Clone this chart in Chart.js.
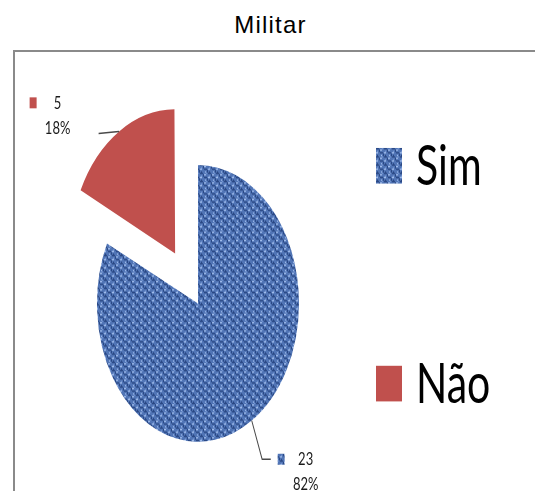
<!DOCTYPE html>
<html>
<head>
<meta charset="utf-8">
<script src="https://cdn.jsdelivr.net/npm/chart.js@4"></script>
<style>
  body { margin: 0; background: #fff; width: 535px; height: 491px; overflow: hidden; position: relative; }
  #title {
    position: absolute; left: 0; top: 13px; width: 541px; text-align: center;
    font: 24px/24px "Liberation Sans", Arial, sans-serif; letter-spacing: 1.2px; color: #000;
  }
  #frame {
    position: absolute; left: 13px; top: 50px; width: 540px; height: 460px;
    border-left: 2px solid #8a8a8a; border-top: 2px solid #8a8a8a;
  }
  #chart { position: absolute; left: 0; top: 0; }
</style>
</head>
<body>
<div id="title">Militar</div>
<div id="frame"></div>
<canvas id="chart" width="535" height="491"></canvas>
<script>
// --- data ---
const categories = ["Sim", "Não"];
const counts = [23, 5];

// --- colours ---
const RED = "#c0504d";
const FONT = "Lato, 'Open Sans', sans-serif";

// the original pie is drawn squashed into an ellipse: everything inside the frame
// is stretched vertically by this factor
const SY = 1.37;

// woven blue fill used for "Sim"
function makeWeave() {
  const c = document.createElement("canvas");
  c.width = 8;
  c.height = 6;
  const g = c.getContext("2d");
  g.fillStyle = "#5175b6";
  g.fillRect(0, 0, 8, 6);
  g.fillStyle = "#2a4884";
  g.fillRect(0, 0, 3, 1);
  g.fillRect(4, 3, 3, 1);
  g.fillRect(3, 1, 1, 2);
  g.fillRect(7, 4, 1, 2);
  g.fillRect(1, 5, 1, 1);
  g.fillStyle = "#9fbbea";
  g.fillRect(4, 1, 2, 1);
  g.fillRect(0, 3, 2, 1);
  g.fillRect(5, 5, 1, 1);
  g.fillStyle = "#7394d0";
  g.fillRect(1, 2, 1, 1);
  g.fillRect(6, 0, 1, 1);
  return g.createPattern(c, "repeat");
}
const WEAVE = makeWeave();

// --- plugins ---
const stretch = {
  id: "stretch",
  beforeDraw(chart) {
    chart.ctx.save();
    chart.ctx.scale(1, SY);
  },
  afterDraw(chart) {
    chart.ctx.restore();
  },
};

// label placement (relative to the point on the slice edge)
const LABEL_SPOTS = [
  { text: [53.9, 28.2], leader: [[10.4, 28.2], [19, 28.2]] }, // Sim
  { text: [-61.5, -20.9], leader: [[-5.5, 0.4], [-20.5, 1.5]] }, // Não
];

const sliceLabels = {
  id: "sliceLabels",
  afterDatasetsDraw(chart) {
    const ctx = chart.ctx;
    const meta = chart.getDatasetMeta(0);
    const ds = chart.data.datasets[0];
    const total = counts.reduce((s, v) => s + v, 0);
    meta.data.forEach((arc, i) => {
      const p = arc.getProps(["x", "y", "startAngle", "endAngle", "outerRadius", "circumference"], true);
      const mid = (p.startAngle + p.endAngle) / 2;
      const shift = (arc.options.offset || 0) / 4;
      const fix = 1 - Math.sin(Math.min(Math.PI, p.circumference));
      const r = p.outerRadius + shift * fix;
      const ax = p.x + Math.cos(mid) * (shift + r);
      const ay = p.y + Math.sin(mid) * (shift + r);
      const spot = LABEL_SPOTS[i];

      // leader line
      ctx.save();
      ctx.strokeStyle = "#4a4a4a";
      ctx.lineWidth = 1;
      ctx.beginPath();
      ctx.moveTo(ax, ay);
      spot.leader.forEach(([dx, dy]) => ctx.lineTo(ax + dx, ay + dy));
      ctx.stroke();

      const tx = ax + spot.text[0];
      const ty = ay + spot.text[1];
      // legend key
      ctx.fillStyle = ds.backgroundColor[i];
      ctx.fillRect(tx - 28, ty - 4, 7, 8);
      // value and percentage
      ctx.fillStyle = "#1a1a1a";
      ctx.font = "13px " + FONT;
      ctx.textAlign = "center";
      ctx.textBaseline = "middle";
      ctx.fillText(String(counts[i]), tx, ty);
      ctx.fillText(Math.round((counts[i] / total) * 100) + "%", tx, ty + 18.5);
      ctx.restore();
    });
  },
};

// big legend on the right
const LEG_X = 376;
const LEG_TOP = 108;
const LEG_STEP = 159;
const bigLegend = {
  id: "bigLegend",
  afterDatasetsDraw(chart) {
    const ctx = chart.ctx;
    const ds = chart.data.datasets[0];
    ctx.save();
    chart.data.labels.forEach((lab, i) => {
      const top = LEG_TOP + i * LEG_STEP;
      ctx.fillStyle = ds.backgroundColor[i];
      ctx.fillRect(LEG_X, top, 26, 26);
      ctx.fillStyle = "#000";
      ctx.font = "41px " + FONT;
      ctx.textAlign = "left";
      ctx.textBaseline = "alphabetic";
      ctx.fillText(lab, LEG_X + 40, top + 27);
    });
    ctx.restore();
  },
};

// --- chart ---
const ctx = document.getElementById("chart").getContext("2d");
new Chart(ctx, {
  type: "pie",
  data: {
    labels: categories,
    datasets: [
      {
        data: counts,
        backgroundColor: [WEAVE, RED],
        borderWidth: 0,
        offset: [0, 172],
        hoverOffset: 0,
        radius: 101,
        clip: false,
      },
    ],
  },
  options: {
    responsive: false,
    animation: false,
    events: [],
    layout: {
      padding: { left: 98, right: 237, top: 121.5, bottom: 169.5 },
    },
    plugins: {
      legend: { display: false },
      tooltip: { enabled: false },
      title: { display: false },
    },
  },
  plugins: [stretch, sliceLabels, bigLegend],
});
</script>
</body>
</html>
